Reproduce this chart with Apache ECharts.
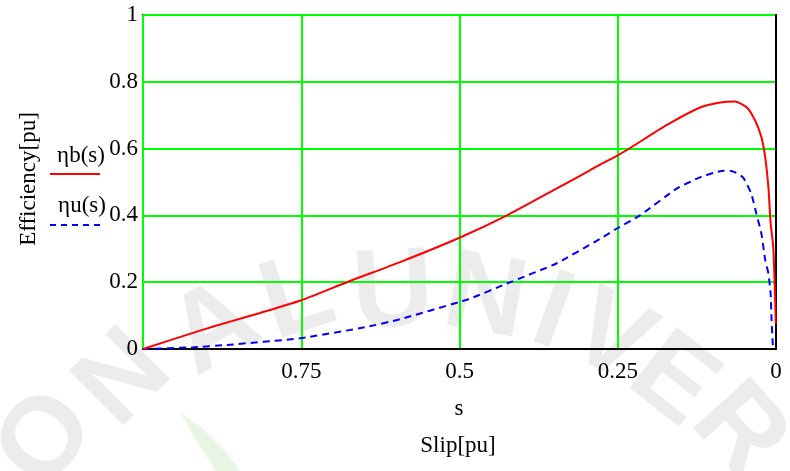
<!DOCTYPE html>
<html>
<head>
<meta charset="utf-8">
<script src="https://cdn.jsdelivr.net/npm/echarts@6/dist/echarts.min.js"></script>
<style>
  html, body { margin: 0; padding: 0; background: #ffffff; }
  #chart { width: 790px; height: 471px; }
</style>
</head>
<body>
<div id="chart"></div>
<script>
// Slip axis ticks (drawn right-to-left, 1 → 0)
const slipTicks = [0, 0.25, 0.5, 0.75, 1];
const effTicks = [0, 0.2, 0.4, 0.6, 0.8, 1];

// ηb(s): efficiency, balanced supply
const slipB = [1, 0.91, 0.857, 0.815, 0.75, 0.678, 0.594, 0.5, 0.425, 0.347, 0.294, 0.278, 0.25, 0.231, 0.173, 0.12, 0.088, 0.065, 0.046, 0.033, 0.023, 0.017, 0.012, 0.0095, 0.0085, 0.0043, 0.0016, 0.0003];
const effB  = [0, 0.055, 0.085, 0.108, 0.146, 0.2, 0.26, 0.333, 0.4, 0.48, 0.535, 0.552, 0.58, 0.601, 0.67, 0.723, 0.738, 0.741, 0.723, 0.684, 0.634, 0.574, 0.484, 0.406, 0.376, 0.305, 0.166, 0.075];

// ηu(s): efficiency, unbalanced supply
const slipU = [1, 0.92, 0.868, 0.752, 0.647, 0.594, 0.5, 0.483, 0.425, 0.347, 0.278, 0.252, 0.215, 0.157, 0.12, 0.083, 0.067, 0.052, 0.039, 0.031, 0.023, 0.017, 0.012, 0.0085, 0.007, 0.005, 0.004];
const effU  = [0, 0.005, 0.012, 0.032, 0.066, 0.089, 0.141, 0.151, 0.196, 0.256, 0.33, 0.36, 0.4, 0.48, 0.514, 0.534, 0.531, 0.514, 0.465, 0.405, 0.345, 0.266, 0.226, 0.166, 0.087, 0.012, 0];

const serif = 'Liberation Serif';
const fontSize = 23;

const zip = (xs, ys) => xs.map((x, i) => [x, ys[i]]);

// Faint, soft background lettering along an arc
const wmLetters = ['O', 'N', 'A', 'L', 'U', 'N', 'I', 'V', 'E', 'R'];
const wmX = [48, 125, 215, 298, 393, 485, 552, 610, 672, 738];
const wmY = [440, 380, 330, 300, 295, 300, 315, 340, 382, 432];
const wmRot = [55, 45, 30, 18, 3, -10, -20, -28, -38, -48];

const watermark = wmLetters.map((ch, i) => ({
  type: 'text',
  x: wmX[i], y: wmY[i],
  rotation: wmRot[i] * Math.PI / 180,
  z: -10,
  silent: true,
  style: {
    text: ch,
    font: 'bold 112px "Liberation Sans"',
    fill: 'rgba(140,140,140,0.17)',
    align: 'center',
    verticalAlign: 'middle',
    shadowBlur: 14,
    shadowColor: 'rgba(140,140,140,0.35)'
  }
}));

const chart = echarts.init(document.getElementById('chart'), null, { renderer: 'canvas' });

chart.setOption({
  animation: false,
  backgroundColor: '#ffffff',
  grid: {
    left: 143, right: 14, top: 15, bottom: 122,
    show: true, borderColor: '#000000', borderWidth: 2, backgroundColor: 'transparent'
  },
  xAxis: {
    type: 'value', min: 0, max: 1, interval: 0.25, inverse: true,
    axisLine: { lineStyle: { color: '#000000', width: 2 } },
    axisTick: { show: false },
    splitLine: { show: true, lineStyle: { color: '#00ff00', width: 2 } },
    axisLabel: {
      color: '#000000', fontFamily: serif, fontSize: fontSize, margin: 11,
      formatter: v => (v === 1 ? '' : String(slipTicks.find(t => Math.abs(t - v) < 1e-9)))
    }
  },
  yAxis: {
    type: 'value', min: 0, max: 1, interval: 0.2,
    axisLine: { show: true, lineStyle: { color: '#000000', width: 2 } },
    axisTick: { show: false },
    splitLine: { show: true, lineStyle: { color: '#00ff00', width: 2 } },
    axisLabel: {
      color: '#000000', fontFamily: serif, fontSize: fontSize, margin: 5,
      formatter: v => String(effTicks.find(t => Math.abs(t - v) < 1e-9))
    }
  },
  series: [
    {
      name: 'ηb(s)', type: 'line', data: zip(slipB, effB),
      showSymbol: false, smooth: 0.2, z: 5,
      lineStyle: { color: '#ff0000', width: 2 }
    },
    {
      name: 'ηu(s)', type: 'line', data: zip(slipU, effU),
      showSymbol: false, smooth: 0.15, z: 4,
      lineStyle: { color: '#0000ff', width: 2, type: [7, 5] }
    }
  ],
  graphic: watermark.concat([
    {
      type: 'polygon', z: -10, silent: true,
      shape: { points: [[180, 412], [202, 428], [226, 452], [240, 471], [216, 471], [197, 442]] },
      style: { fill: 'rgba(130,200,110,0.15)', shadowBlur: 10, shadowColor: 'rgba(130,200,110,0.3)' }
    },
    {
      type: 'text', x: 29, y: 179, rotation: Math.PI / 2,
      style: { text: 'Efficiency[pu]', font: fontSize + 'px "Liberation Serif"', fill: '#000', align: 'center', verticalAlign: 'middle' }
    },
    {
      type: 'text', x: 81, y: 156,
      style: { text: 'ηb(s)', font: fontSize + 'px "Liberation Serif"', fill: '#000', align: 'center', verticalAlign: 'middle' }
    },
    {
      type: 'line', shape: { x1: 50, y1: 174, x2: 100, y2: 174 },
      style: { stroke: '#ff0000', lineWidth: 2 }
    },
    {
      type: 'text', x: 82, y: 206,
      style: { text: 'ηu(s)', font: fontSize + 'px "Liberation Serif"', fill: '#000', align: 'center', verticalAlign: 'middle' }
    },
    {
      type: 'line', shape: { x1: 50, y1: 225, x2: 100, y2: 225 },
      style: { stroke: '#0000ff', lineWidth: 2, lineDash: [6, 5] }
    },
    {
      type: 'text', x: 459, y: 409,
      style: { text: 's', font: fontSize + 'px "Liberation Serif"', fill: '#000', align: 'center', verticalAlign: 'middle' }
    },
    {
      type: 'text', x: 458, y: 446,
      style: { text: 'Slip[pu]', font: fontSize + 'px "Liberation Serif"', fill: '#000', align: 'center', verticalAlign: 'middle' }
    }
  ])
});
</script>
</body>
</html>
